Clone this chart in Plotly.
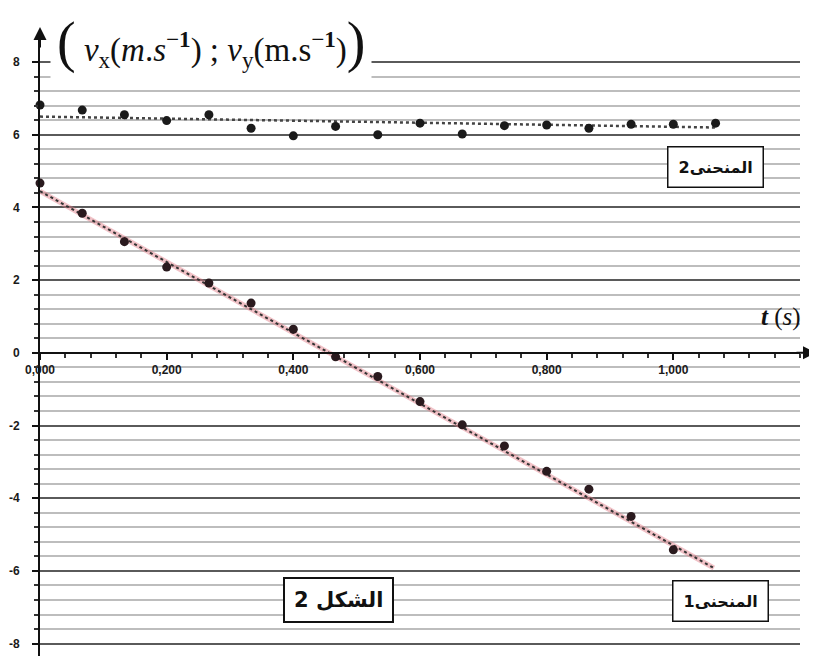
import plotly.graph_objects as go

# ---- data ----
t_pts2 = [0.000, 0.0667, 0.1333, 0.2000, 0.2667, 0.3333, 0.4000, 0.4667, 0.5333,
          0.6000, 0.6667, 0.7333, 0.8000, 0.8667, 0.9333, 1.0000, 1.0667]
v_curve2 = [6.82, 6.68, 6.55, 6.39, 6.55, 6.18, 5.97, 6.23, 6.00,
            6.32, 6.02, 6.25, 6.27, 6.18, 6.29, 6.29, 6.32]

t_pts1 = [0.000, 0.0667, 0.1333, 0.2000, 0.2667, 0.3333, 0.4000, 0.4667,
          0.5333, 0.6000, 0.6667, 0.7333, 0.8000, 0.8667, 0.9333, 1.0000]
v_curve1 = [4.67, 3.84, 3.06, 2.36, 1.92, 1.37, 0.65, -0.11,
            -0.65, -1.34, -1.98, -2.56, -3.26, -3.75, -4.50, -5.42]

trend1_t = [0.0, 1.064]
trend1_v = [4.45, -5.92]
trend2_t = [0.0, 1.067]
trend2_v = [6.50, 6.20]

x_tick_vals = [0.0, 0.2, 0.4, 0.6, 0.8, 1.0]
x_tick_text = ["<b>0,000</b>", "<b>0,200</b>", "<b>0,400</b>", "<b>0,600</b>", "<b>0,800</b>", "<b>1,000</b>"]
y_tick_vals = [-8, -6, -4, -2, 0, 2, 4, 6, 8]
y_tick_text = ["<b>-8</b>", "<b>-6</b>", "<b>-4</b>", "<b>-2</b>", "<b>0</b>", "<b>2</b>", "<b>4</b>", "<b>6</b>", "<b>8</b>"]
y_minor_vals = [round(-8 + 0.4 * i, 1) for i in range(41) if round(-8 + 0.4 * i, 1) % 2 != 0]

X_RANGE = [0, 1.2]
Y_RANGE = [-8.34, 8.80]

fig = go.Figure()

# trend line 1 (pinkish halo + dotted dark line)
fig.add_trace(go.Scatter(x=trend1_t, y=trend1_v, mode="lines",
                         line=dict(color="rgba(225,120,130,0.45)", width=5),
                         hoverinfo="skip", showlegend=False))
fig.add_trace(go.Scatter(x=trend1_t, y=trend1_v, mode="lines",
                         line=dict(color="#333333", width=2, dash="dot"),
                         hoverinfo="skip", showlegend=False))
# trend line 2
fig.add_trace(go.Scatter(x=trend2_t, y=trend2_v, mode="lines",
                         line=dict(color="#444444", width=2.5, dash="dot"),
                         hoverinfo="skip", showlegend=False))

# points
fig.add_trace(go.Scatter(x=t_pts1, y=v_curve1, mode="markers",
                         marker=dict(color="#2a1a1e", size=9),
                         showlegend=False, cliponaxis=False))
fig.add_trace(go.Scatter(x=t_pts2, y=v_curve2, mode="markers",
                         marker=dict(color="#1a1a1a", size=9),
                         showlegend=False, cliponaxis=False))

x_axis_pos = (0 - Y_RANGE[0]) / (Y_RANGE[1] - Y_RANGE[0])

# the page body adds an 8px offset, so the figure is 8px smaller and margins compensate
fig.update_layout(
    width=809, height=648,
    margin=dict(l=32, r=17, t=25, b=0),
    paper_bgcolor="white", plot_bgcolor="white",
    font=dict(family="Liberation Sans, Arial, sans-serif", color="#222222"),
    xaxis=dict(range=X_RANGE, showgrid=False, zeroline=False,
               anchor="free", position=x_axis_pos,
               showline=True, linecolor="#111111", linewidth=2,
               tickmode="array", tickvals=x_tick_vals, ticktext=x_tick_text,
               ticks="outside", ticklen=6, tickwidth=1.5, tickcolor="#111111",
               tickfont=dict(size=12, color="#1a1a1a"),
               minor=dict(dtick=0.04, tick0=0, ticks="outside", ticklen=4,
                          tickcolor="#333333", showgrid=False)),
    yaxis=dict(range=Y_RANGE, zeroline=False,
               showline=True, linecolor="#111111", linewidth=2,
               tickmode="array", tickvals=y_tick_vals, ticktext=y_tick_text,
               showgrid=True, gridcolor="#5a5a5a", gridwidth=2,
               ticks="outside", ticklen=6, tickwidth=1.5, tickcolor="#111111",
               tickfont=dict(size=12, color="#1a1a1a"),
               ticklabelstandoff=10,
               minor=dict(tickmode="array", tickvals=y_minor_vals, ticks="outside",
                          ticklen=4, tickcolor="#333333",
                          showgrid=True, gridcolor="#bdbdbd", gridwidth=1.5)),
)

annotations = [
    # title
    dict(xref="x", yref="y", x=0.27, y=8.55,
         text="<span style='font-size:56px'>(</span> <i>v</i><sub>x</sub>(<i>m</i>.<i>s</i><sup>−<b>1</b></sup>) ; "
              "<i>v</i><sub>y</sub>(m.s<sup>−<b>1</b></sup>)<span style='font-size:56px'>)</span>",
         showarrow=False, bgcolor="white", borderpad=6,
         font=dict(family="Liberation Serif, DejaVu Serif, serif", size=33, color="#111111")),
    # axis label t (s)
    dict(xref="x", yref="y", x=1.17, y=1.0,
         text="<b><i>t</i></b> (<i>s</i>)", showarrow=False,
         font=dict(family="Liberation Serif, DejaVu Serif, serif", size=25, color="#111111")),
    # boxes
    dict(xref="x", yref="y", x=1.067, y=5.12, text="<b>المنحنى2</b>", showarrow=False,
         bgcolor="white", bordercolor="#111111", borderwidth=1.5, borderpad=10,
         font=dict(family="DejaVu Sans, Noto Sans, sans-serif", size=16, color="#111111")),
    dict(xref="x", yref="y", x=1.075, y=-6.82, text="<b>المنحنى1</b>", showarrow=False,
         bgcolor="white", bordercolor="#111111", borderwidth=1.5, borderpad=10,
         font=dict(family="DejaVu Sans, Noto Sans, sans-serif", size=16, color="#111111")),
    dict(xref="x", yref="y", x=0.472, y=-6.8, text="<b>الشكل 2</b>", showarrow=False,
         bgcolor="white", bordercolor="#111111", borderwidth=2, borderpad=9,
         font=dict(family="DejaVu Sans, Noto Sans, sans-serif", size=21, color="#111111")),
    # x axis arrow
    dict(xref="paper", yref="y", x=1.0 + 17 / 760, y=0, ax=-22, ay=0,
         text="", showarrow=True, arrowhead=2, arrowsize=1.3, arrowwidth=2,
         arrowcolor="#111111"),
    # y axis arrow
    dict(xref="paper", yref="paper", x=0, y=1.0 + 6 / 623, ax=0, ay=22,
         text="", showarrow=True, arrowhead=2, arrowsize=1.3, arrowwidth=2,
         arrowcolor="#111111"),
]
fig.update_layout(annotations=annotations)

fig.write_html("out.html")
